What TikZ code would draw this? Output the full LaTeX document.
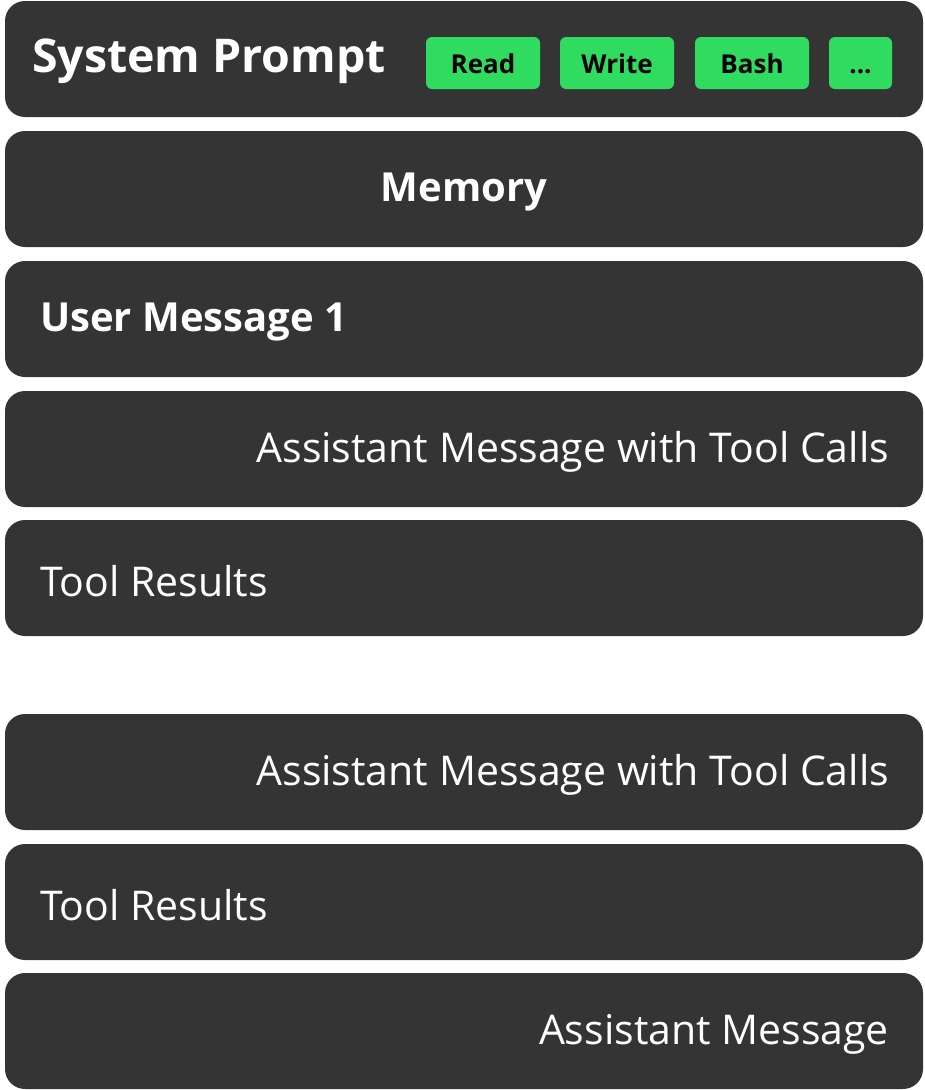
\documentclass[tikz,border=0pt]{standalone}
\usepackage{fontspec}
\setmainfont{Open Sans}
\usetikzlibrary{positioning,calc}
\definecolor{barGray}{HTML}{343434}
\definecolor{toolGreen}{HTML}{2FDC60}

\begin{document}
\begin{tikzpicture}[x=1pt,y=-1pt,
    bar/.style={rectangle,rounded corners=20pt,fill=barGray,minimum width=918pt,minimum height=116pt,inner sep=0pt},
    bartxt/.style={text=white,font=\fontsize{41}{48}\selectfont,inner sep=0pt,yshift=-3pt},
    boldtxt/.style={text=white,font=\fontsize{40}{48}\selectfont\bfseries,inner sep=0pt,yshift=-3pt},
    tool/.style={rectangle,rounded corners=6pt,fill=toolGreen,minimum width=114pt,minimum height=52pt,inner sep=0pt,text height=21pt,text depth=1pt,font=\fontsize{26}{30}\selectfont\bfseries}]
  \useasboundingbox (0,0) rectangle (924,1090);
  % bars
  \node (sys) at (464,59) [bar]{};
  \node (mem) at (464,189) [bar]{};
  \node (user) at (464,319) [bar]{};
  \node (asst1) at (464,449) [bar]{};
  \node (res1) at (464,578) [bar]{};
  \node (asst2) at (464,772) [bar]{};
  \node (res2) at (464,902) [bar]{};
  \node (asst3) at (464,1031) [bar]{};
  % texts
  \node (systxt) at ([xshift=27pt,yshift=1pt]sys.west) [anchor=west,boldtxt,font=\fontsize{46.5}{52}\selectfont\bfseries]{System Prompt};
  \node (memtxt) at (mem.center) [boldtxt]{Memory};
  \node (usertxt) at ([xshift=35pt]user.west) [anchor=west,boldtxt]{User Message 1};
  \node (asst1txt) at ([xshift=-34pt]asst1.east) [anchor=east,bartxt]{Assistant Message with Tool Calls};
  \node (res1txt) at ([xshift=35pt]res1.west) [anchor=west,bartxt]{Tool Results};
  \node (asst2txt) at ([xshift=-34pt]asst2.east) [anchor=east,bartxt]{Assistant Message with Tool Calls};
  \node (res2txt) at ([xshift=35pt]res2.west) [anchor=west,bartxt]{Tool Results};
  \node (asst3txt) at ([xshift=-34pt]asst3.east) [anchor=east,bartxt]{Assistant Message};
  % tools
  \node (read) at (483,63) [tool]{Read};
  \node (write) at (617,63) [tool]{Write};
  \node (bash) at (752,63) [tool]{Bash};
  \node (more) at (860.5,63) [tool,minimum width=63pt]{...};
\end{tikzpicture}
\end{document}
